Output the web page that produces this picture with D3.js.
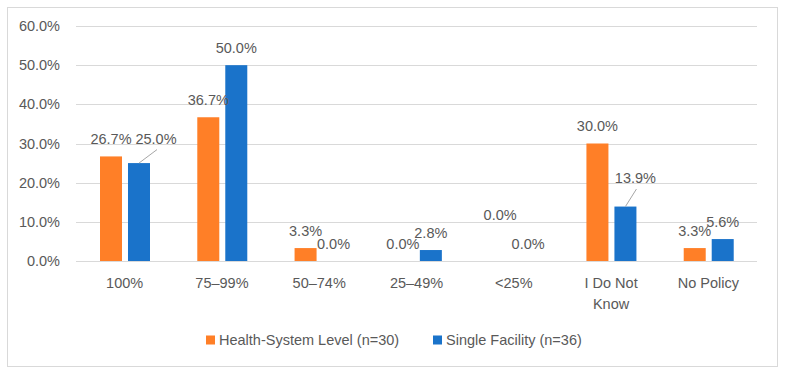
<!DOCTYPE html>
<html>
<head>
<meta charset="utf-8">
<script src="https://cdn.jsdelivr.net/npm/d3@7"></script>
<style>
  body { margin: 0; background: #fff; }
  text { font-family: "Liberation Sans Narrow", "Liberation Sans", sans-serif; fill: #595959; }
</style>
</head>
<body>
<div id="chart"></div>
<script>
// chart values
const categories = ["100%", "75\u201399%", "50\u201374%", "25\u201349%", "<25%", "I Do Not Know", "No Policy"]
const seriesNames = ["Health-System Level (n=30)", "Single Facility (n=36)"]
const healthSystem = [26.7, 36.7, 3.3, 0.0, 0.0, 30.0, 3.3]
const singleFacility = [25.0, 50.0, 0.0, 2.8, 0.0, 13.9, 5.6]
const yTicks = [0, 10, 20, 30, 40, 50, 60]

const colors = ["#FF7F27", "#1A73CA"]
const width = 785, height = 374
const margin = {left: 76, right: 28, top: 26, bottom: 113}

// labels that were dragged by hand in the original (px nudges + leader line)
const labelNudge = {
    "1-0": {dx: 17, dy: -7, leader: true},
    "0-4": {dx: 0, dy: -29, leader: false},
    "1-5": {dx: 10, dy: -11, leader: true}
}

function render() {
    const svg = d3.select('#chart')
        .append('svg')
        .attr('width', width)
        .attr('height', height)

    svg.append('rect')
        .attr('x', 7.5).attr('y', 7.5)
        .attr('width', 770).attr('height', 359)
        .attr('fill', '#fff')
        .attr('stroke', '#d9d9d9')

    const x0 = d3.scaleBand().domain(categories).range([margin.left, width - margin.right])
    const x1 = d3.scaleBand().domain(seriesNames).range([24, 74]).paddingInner(0.214)
    const y = d3.scaleLinear().domain([0, 60]).range([height - margin.bottom, margin.top])

    // gridlines
    svg.append('g')
        .selectAll('line')
        .data(yTicks)
        .enter()
        .append('line')
        .attr('x1', margin.left).attr('x2', width - margin.right)
        .attr('y1', d => Math.round(y(d)) + 0.5).attr('y2', d => Math.round(y(d)) + 0.5)
        .attr('stroke', '#d9d9d9')

    // y axis
    const yAxis = svg.append('g')
        .attr('transform', `translate(${margin.left - 16},0)`)
        .call(d3.axisLeft(y).tickValues(yTicks).tickFormat(d => d.toFixed(1) + '%').tickSize(0).tickPadding(0))
    yAxis.select('.domain').remove()
    yAxis.selectAll('text').style('font-size', '14.5px').attr('fill', '#595959')

    // x axis labels
    const xAxis = svg.append('g')
        .attr('transform', `translate(0,${y(0)})`)
        .call(d3.axisBottom(x0).tickSize(0).tickPadding(0).tickFormat(''))
    xAxis.select('.domain').remove()
    xAxis.selectAll('.tick').each(function (d) {
        const t = d3.select(this).append('text')
            .attr('text-anchor', 'middle')
            .style('font-size', '14.5px')
        const words = d === "I Do Not Know" ? ["I Do Not", "Know"] : [d]
        words.forEach((w, i) => {
            t.append('tspan').attr('x', 0).attr('y', 27 + i * 20.5).text(w)
        })
    })

    const table = categories.map((c, i) => ({
        cat: c,
        vals: [healthSystem[i], singleFacility[i]]
    }))

    const groups = svg.append('g')
        .selectAll('g')
        .data(table)
        .enter()
        .append('g')
        .attr('transform', d => `translate(${x0(d.cat)},0)`)

    groups.selectAll('rect')
        .data(d => d.vals.map((v, s) => ({v, s})))
        .enter()
        .append('rect')
        .attr('x', d => x1(seriesNames[d.s]))
        .attr('width', x1.bandwidth())
        .attr('y', d => y(d.v))
        .attr('height', d => y(0) - y(d.v))
        .attr('fill', d => colors[d.s])

    // data labels
    groups.each(function (d, ci) {
        const g = d3.select(this)
        d.vals.forEach((v, s) => {
            const cx = x1(seriesNames[s]) + x1.bandwidth() / 2
            const top = y(v)
            const n = labelNudge[`${s}-${ci}`] || {dx: 0, dy: 0, leader: false}
            const lx = cx + n.dx, ly = top - 17.5 + n.dy
            if (n.leader) {
                g.append('line')
                    .attr('x1', cx).attr('y1', top)
                    .attr('x2', lx + 1).attr('y2', ly + 11)
                    .attr('stroke', '#a6a6a6')
            }
            g.append('text')
                .attr('x', lx).attr('y', ly)
                .attr('dy', '0.35em')
                .attr('text-anchor', 'middle')
                .style('font-size', '14.5px')
                .text(v.toFixed(1) + '%')
        })
    })

    // legend
    const legendX = [206, 433]
    const legend = svg.append('g')
        .selectAll('g')
        .data(seriesNames)
        .enter()
        .append('g')
        .attr('transform', (d, i) => `translate(${legendX[i]},340)`)
    legend.append('rect')
        .attr('x', 0).attr('y', -4.5)
        .attr('width', 9).attr('height', 9)
        .attr('fill', (d, i) => colors[i])
    legend.append('text')
        .attr('x', 13).attr('dy', '0.35em')
        .style('font-size', '14.5px')
        .text(d => d)
}

render()
</script>
</body>
</html>
